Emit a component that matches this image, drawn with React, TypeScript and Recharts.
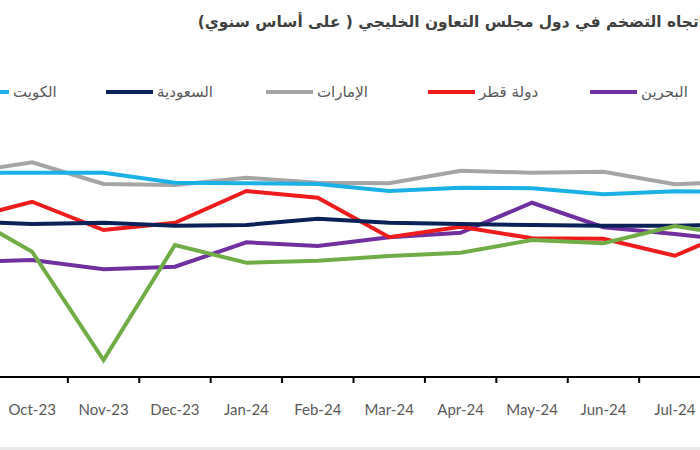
import { LineChart, Line, XAxis, YAxis } from "recharts";

// months (Sep-23 and Aug-24 sit just outside the visible crop)
const months = [
  "Sep-23", "Oct-23", "Nov-23", "Dec-23", "Jan-24", "Feb-24",
  "Mar-24", "Apr-24", "May-24", "Jun-24", "Jul-24", "Aug-24",
];

// inflation y/y, %
const bahrain = [-0.41, -0.32, -0.69, -0.59, 0.39, 0.24, 0.59, 0.77, 1.97, 0.99, 0.72, 0.42];
const qatar = [1.27, 2.01, 0.88, 1.17, 2.44, 2.17, 0.59, 1.01, 0.55, 0.53, -0.15, 1.07];
const uae = [3.14, 3.59, 2.72, 2.68, 2.97, 2.77, 2.75, 3.25, 3.17, 3.21, 2.71, 2.82];
const saudi = [1.24, 1.12, 1.17, 1.05, 1.08, 1.33, 1.17, 1.12, 1.08, 1.05, 1.05, 1.1];
const kuwait = [3.17, 3.17, 3.17, 2.77, 2.75, 2.72, 2.44, 2.57, 2.55, 2.31, 2.43, 2.4];
const oman = [1.64, 0.01, -4.32, 0.28, -0.43, -0.35, -0.16, -0.03, 0.48, 0.35, 1.04, 0.58];

const title = "اتجاه التضخم في دول مجلس التعاون الخليجي ( على أساس سنوي)";

// drawing order: later series are drawn on top
const series = [
  { key: "bahrain", name: "البحرين", color: "#7030A0", values: bahrain },
  { key: "qatar", name: "دولة قطر", color: "#EE1C1C", values: qatar },
  { key: "uae", name: "الإمارات", color: "#A5A5A5", values: uae },
  { key: "saudi", name: "السعودية", color: "#0A2258", values: saudi },
  { key: "kuwait", name: "الكويت", color: "#1BB1E7", values: kuwait },
  { key: "oman", name: "عمان", color: "#70AD47", values: oman },
];

// where each legend entry starts (page x), left part is cropped like the source
const legendLeft: Record<string, number> = {
  oman: -190,
  kuwait: -38,
  saudi: 106,
  uae: 266,
  qatar: 428,
  bahrain: 590,
};

const data = months.map((month, i) => {
  const row: Record<string, string | number> = { month };
  series.forEach((s) => {
    row[s.key] = s.values[i];
  });
  return row;
});

const CHART_W = 857;
const CHART_H = 450;
const BAND = CHART_W / months.length;
const AXIS_Y = 377;

function MonthTick(props: any) {
  const { x, y, payload } = props;
  return (
    <g>
      <line
        x1={x - BAND / 2}
        x2={x - BAND / 2}
        y1={AXIS_Y}
        y2={AXIS_Y + 6}
        stroke="#000"
        strokeWidth={2}
      />
      <text
        x={x}
        y={y}
        dy={30}
        textAnchor="middle"
        fill="#595959"
        fontSize={15}
        fontFamily="Lato, sans-serif"
      >
        {payload.value}
      </text>
    </g>
  );
}

function ChartLegend() {
  return (
    <div style={{ position: "absolute", top: 83, left: 0, height: 18 }}>
      {series.map((s) => (
        <div
          key={s.key}
          style={{
            position: "absolute",
            left: legendLeft[s.key],
            top: 0,
            display: "flex",
            alignItems: "center",
            height: 18,
          }}
        >
          <div style={{ width: 47, height: 4, background: s.color }} />
          <span
            style={{
              marginLeft: 4,
              fontSize: 15,
              color: "#595959",
              fontFamily: "'DejaVu Sans', sans-serif",
              whiteSpace: "nowrap",
            }}
          >
            {s.name}
          </span>
        </div>
      ))}
    </div>
  );
}

export default function App() {
  return (
    <div
      style={{
        position: "absolute",
        top: 0,
        left: 0,
        width: 700,
        height: 450,
        overflow: "hidden",
        background: "#fff",
      }}
    >
      <div
        style={{
          position: "absolute",
          top: 13,
          right: -4,
          direction: "rtl",
          whiteSpace: "nowrap",
          fontFamily: "'DejaVu Sans', sans-serif",
          fontWeight: "bold",
          fontSize: 15.4,
          color: "#404040",
        }}
      >
        {title}
      </div>

      <ChartLegend />

      <div style={{ position: "absolute", top: 0, left: -75, width: CHART_W, height: CHART_H }}>
        <LineChart
          width={CHART_W}
          height={CHART_H}
          data={data}
          margin={{ top: 127, right: 0, bottom: 0, left: 0 }}
        >
          <XAxis
            dataKey="month"
            scale="band"
            height={73}
            interval={0}
            tickLine={false}
            tickSize={6}
            tickMargin={2}
            axisLine={{ stroke: "#000", strokeWidth: 2 }}
            tick={<MonthTick />}
          />
          <YAxis hide domain={[-5, 5]} />
          {series.map((s) => (
            <Line
              key={s.key}
              type="linear"
              dataKey={s.key}
              name={s.name}
              stroke={s.color}
              strokeWidth={4}
              dot={false}
              activeDot={false}
              isAnimationActive={false}
            />
          ))}
        </LineChart>
      </div>
      <div
        style={{
          position: "absolute",
          left: 0,
          bottom: 0,
          width: 700,
          height: 3,
          background: "#e9e9e9",
        }}
      />
    </div>
  );
}
